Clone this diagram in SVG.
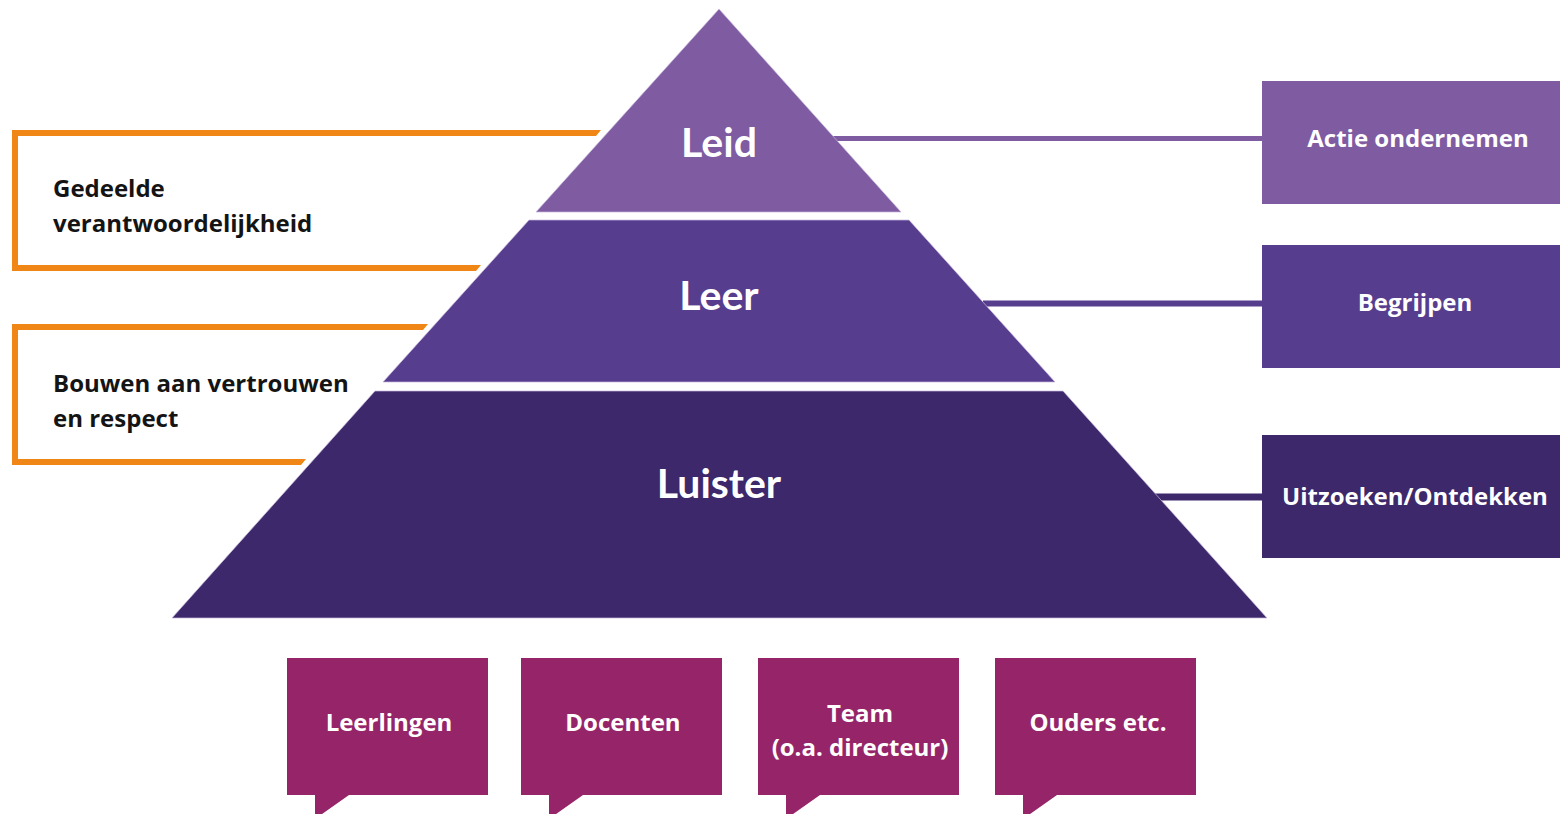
<svg xmlns="http://www.w3.org/2000/svg" width="1560" height="814" viewBox="0 0 1560 814">
  <style>
    .lbl { font-family: "Open Sans", "Liberation Sans", sans-serif; font-weight: 700; font-size: 24px; }
    .wt { fill: #ffffff; text-anchor: middle; }
    .dk { fill: #141414; }
    .tier { font-family: Lato, "Open Sans", sans-serif; font-weight: 700; font-size: 41px; fill: #ffffff; text-anchor: middle; }
    .c1 { fill: #7f5ba2; }
    .c2 { fill: #573d8e; }
    .c3 { fill: #3c286a; }
    .bub { fill: #952568; }
    .org { fill: #ef8615; }
    .edge { stroke: #c9b9e0; stroke-width: 1; stroke-opacity: 0.7; }
  </style>
  <rect width="1560" height="814" fill="#ffffff"/>

  <g id="connectors">
    <line x1="833" y1="138.5" x2="1264" y2="138.5" stroke="#7f5ba2" stroke-width="5"/>
    <line x1="983" y1="303.5" x2="1264" y2="303.5" stroke="#573d8e" stroke-width="6"/>
    <line x1="1155" y1="497" x2="1264" y2="497" stroke="#3c286a" stroke-width="7"/>
  </g>

  <g id="bracket-gedeelde">
    <path class="org" d="M12,130 H601 L596,136 H18 V265 H481 L476,271 H12 Z"/>
    <text class="lbl dk" x="53" y="197">Gedeelde</text>
    <text class="lbl dk" x="53" y="232">verantwoordelijkheid</text>
  </g>
  <g id="bracket-bouwen">
    <path class="org" d="M12,324 H428 L423,330 H18 V459 H306 L301,465 H12 Z"/>
    <text class="lbl dk" x="53" y="392">Bouwen aan vertrouwen</text>
    <text class="lbl dk" x="53" y="427">en respect</text>
  </g>

  <g id="tier-leid">
    <polygon class="c1 edge" points="719,9 901,212 536,212"/>
    <text class="tier" x="719" y="157">Leid</text>
  </g>
  <g id="tier-leer">
    <polygon class="c2 edge" points="529,220 909,220 1055,382 383,382"/>
    <text class="tier" x="719" y="310">Leer</text>
  </g>
  <g id="tier-luister">
    <polygon class="c3 edge" points="375,391 1063,391 1267,618 172,618"/>
    <text class="tier" x="719" y="498">Luister</text>
  </g>

  <g id="box-actie">
    <rect class="c1" x="1262" y="81" width="298" height="123"/>
    <text class="lbl wt" x="1418" y="147">Actie ondernemen</text>
  </g>
  <g id="box-begrijpen">
    <rect class="c2" x="1262" y="245" width="298" height="123"/>
    <text class="lbl wt" x="1415" y="311">Begrijpen</text>
  </g>
  <g id="box-uitzoeken">
    <rect class="c3" x="1262" y="435" width="298" height="123"/>
    <text class="lbl wt" x="1415" y="505">Uitzoeken/Ontdekken</text>
  </g>

  <g id="bubble-leerlingen">
    <path class="bub" d="M287,658 H488 V795 H349 L315,819 V795 H287 Z"/>
    <text class="lbl wt" x="389" y="731">Leerlingen</text>
  </g>
  <g id="bubble-docenten">
    <path class="bub" d="M521,658 H722 V795 H583 L549,819 V795 H521 Z"/>
    <text class="lbl wt" x="623" y="731">Docenten</text>
  </g>
  <g id="bubble-team">
    <path class="bub" d="M758,658 H959 V795 H820 L786,819 V795 H758 Z"/>
    <text class="lbl wt" x="860" y="722">Team</text>
    <text class="lbl wt" x="860" y="756">(o.a. directeur)</text>
  </g>
  <g id="bubble-ouders">
    <path class="bub" d="M995,658 H1196 V795 H1057 L1023,819 V795 H995 Z"/>
    <text class="lbl wt" x="1098" y="731">Ouders etc.</text>
  </g>
</svg>
